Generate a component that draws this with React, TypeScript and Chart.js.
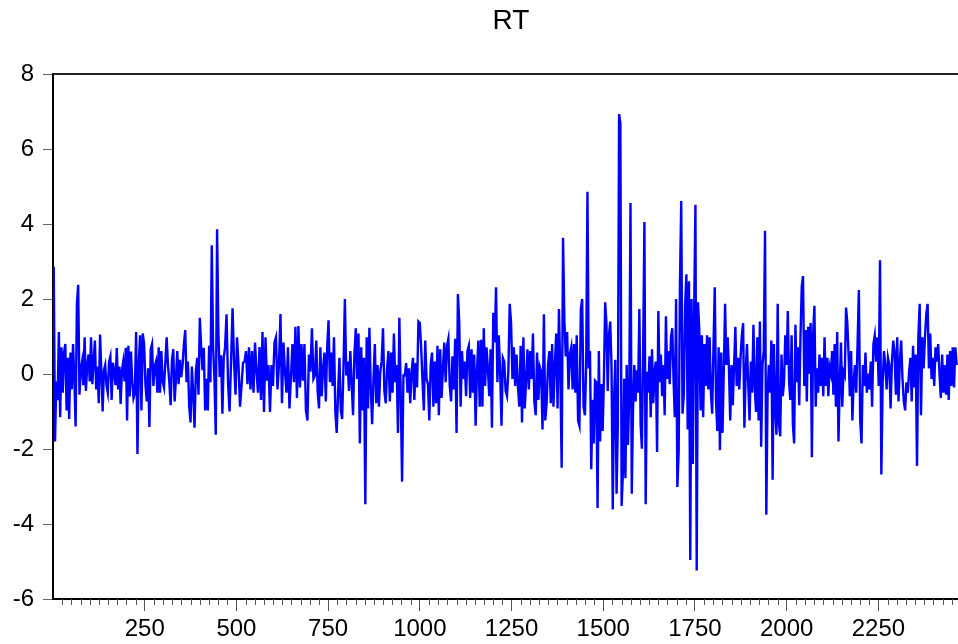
import React, { useEffect, useRef } from 'react';
import { Chart, registerables } from 'chart.js';

Chart.register(...registerables);

const TITLE = 'RT';
const Y_TICKS = [-6, -4, -2, 0, 2, 4, 6, 8];
const X_LABELS = [250, 500, 750, 1000, 1250, 1500, 1750, 2000, 2250];
const MINOR_STEP = 25;
const X_MIN = 0;
const X_MAX = 2497;

// observation index at which each block of readings starts (last entry = end)
const BLOCK_START = [2, 223, 469, 714, 959, 1204, 1450, 1695, 1941, 2186, 2467];

const rtA = [2.86, -1.8, -0.2, -0.7, 1.12, -1.15, 0.71, -0.5, 0.57, 0.8, -0.97, 0.43, -1.2, 0.57, -0.41, 0.8, -0.13, -1.4, 1.87, 2.38, -0.55, 0.1, 0.33, -0.3, 0.98, -0.45, 0.2, 0.52, -0.2, 0.98, -0.27, 0.33, 0.89, -0.41, 0.2, -0.78, 1.05, 0.06, -1.0, 0.1, 0.24, -0.3, -0.5, 0.33, 0.47, -0.69, 0.3, 0.06, -0.3, 0.69, -0.41, 0.2, -0.8, 0.1, 0.33, -0.2, 0.7, -1.24, 0.75, -0.6, 0.6, -0.2, -0.64];
const rtB = [-0.5, 1.12, -2.13, 0.3, 1.03, -0.97, 1.08, 0.8, -0.27, -0.73, 0.15, -1.41, 0.66, 0.8, -0.32, 0.2, 0.33, -0.5, 0.71, -0.5, 0.61, -0.2, -0.36, 0.3, 0.98, 0.24, -0.22, -0.83, 0.38, 0.66, -0.73, -0.13, 0.61, -0.27, 0.38, -0.08, 0.24, 0.8, 1.17, -0.22, 0.33, -0.87, -1.29, 0.2, -0.5, -1.43, 0.06, 0.43, -0.55, 1.5, 0.71, 0.1, 0.7, -0.97, -0.13, -0.97, 0.75, -0.22, 3.43, 0.71, -0.13, -1.62, 3.86, 1.08, -0.08, 0.5, -1.06, 0.43];
const rtC = [0.71, 1.59, -0.22, -1.0, 0.3, 1.75, 0.33, -0.55, 0.98, 0.24, -0.87, -0.32, 0.3, 0.33, 0.61, -0.27, 0.71, -0.41, 0.61, -0.5, 0.84, 0.06, -0.5, 0.72, -0.69, 1.12, -1.01, 0.98, -0.18, 0.24, -1.01, 0.24, -0.32, 0.84, 0.98, -0.41, 0.24, 1.6, -0.78, 0.84, 0.06, -0.5, 0.71, -0.92, -0.08, 0.8, -0.22, 1.26, -0.64, 1.28, -0.36, 0.8, -0.18, 0.8, -0.97, -1.24, 0.52, 0.06, 1.22, -0.13];
const rtD = [-0.04, 0.89, -0.45, -0.92, 0.71, -0.59, 0.15, 0.57, -0.73, 0.71, 1.43, -0.22, 0.57, -0.32, 0.98, -1.01, -1.57, -0.5, 0.43, -0.97, -1.2, 0.24, 2.0, -0.04, 0.33, -0.45, 0.61, -0.27, -1.1, 0.52, 1.22, -0.13, 1.08, -1.85, 0.71, -0.97, 0.43, -3.47, 0.98, -0.92, 1.23, -0.36, -1.34, -0.13, 0.8, -0.78, 0.24, -0.87, 0.06, 0.33, 1.22, -0.45, -0.78, 0.15, 0.61, -0.73, 0.57, -0.5, 1.08, -0.22, 0.24, -1.57, 1.5, -0.5, -2.87, -0.04];
const rtE = [-0.04, 0.29, -0.5, 0.15, -0.78, 0.06, 0.43, -0.69, 0.29, -0.36, 1.4, 1.36, 0.71, -0.18, -0.97, 0.89, -0.13, -0.27, -1.24, 0.24, 0.57, -0.87, 0.33, -0.78, 0.75, -1.1, 0.66, -0.64, 0.15, 0.84, -0.22, 0.75, 0.94, -0.32, -0.73, 0.47, -0.41, 0.94, -1.57, 2.13, 1.36, -0.87, 0.61, -0.13, 0.33, -0.59, 0.61, 0.75, -0.64, 0.66, -0.5, 0.52, -1.38, 0.06, 0.89, -0.87, 0.91, -0.87, 1.22, -0.32, 0.71, 0.15, -0.59, 0.66, -1.43, 1.63];
const rtF = [0.84, 2.31, -0.22, 1.03, 0.06, -1.38, 0.43, 0.33, -0.45, -0.59, 0.06, 1.87, 1.36, -0.13, 0.71, -0.32, 0.52, -0.32, -0.87, 0.75, -1.29, 0.98, -0.92, -0.18, 0.66, -0.41, 0.61, -0.13, 1.08, -0.73, -1.1, 0.57, -0.69, 0.19, 0.06, -1.48, 1.59, -1.24, -0.78, 0.24, 0.61, -0.78, 0.8, -0.87, 0.24, 1.08, -0.92, 1.73, 0.06, -2.5, 3.63, 1.4, 0.47, 1.12, -0.41, 0.52, 0.71, -0.41, 0.8, -0.5, 1.03, -1.24, -1.38, 1.73, 2.0, -0.87];
const rtG = [-1.1, 0.24, 4.86, 0.15, 0.61, -2.54, -0.69, -1.85, -0.18, -0.22, -3.57, 0.61, -1.8, -0.27, -1.52, -0.13, 1.91, 1.36, -0.45, 1.03, 1.4, 0.24, -3.61, -0.69, 0.38, -3.19, -1.34, 6.93, 6.69, -3.52, -2.64, -0.13, -2.78, 0.24, -1.89, -0.64, 4.56, -3.19, -0.97, 0.24, -0.73, 0.1, -0.5, 1.73, -1.34, -1.99, 0.61, 4.05, -3.47, 0.06, -0.5, 0.47, -1.15, 0.66, -0.78, 0.06, 0.33, -2.08, 1.68, -0.22, 0.52, -0.59, 0.24, -1.1, 1.54, -0.13, 0.61, -0.27, 0.98, 1.22, -0.13];
const rtH = [-1.15, 2.0, -3.01, -2.08, 2.38, 4.61, -1.06, -0.55, 1.82, 2.66, -1.48, 2.47, -4.96, 2.0, -2.4, 1.59, 4.51, -5.24, 1.91, 1.17, -0.97, 1.03, -1.15, 0.8, -0.32, 1.03, -0.41, 0.98, -0.5, -1.06, 0.71, 2.31, -0.73, -1.52, 0.71, -2.03, 0.57, -1.57, 0.06, 1.87, 0.24, 0.98, 0.15, -1.24, 0.24, -0.83, 0.24, 1.26, -0.32, 0.43, -0.41, 0.43, 1.03, 1.36, -1.43, 0.06, 0.8, -0.32, -1.24, 0.33, -0.5, 1.31, -0.32, -1.01, 0.98, -1.24, 1.4, -1.94, 0.24, 0.61];
const rtI = [3.82, -3.75, -0.55, 0.24, -0.5, 0.89, -2.82, 0.8, -0.87, -1.62, 1.87, -1.34, -1.66, 0.52, -0.59, -0.22, 1.03, 0.24, 1.68, -0.22, -0.69, 1.03, -1.34, -1.85, 1.31, -0.22, 0.71, -0.83, 0.98, 2.33, 2.61, -0.32, 1.17, -0.73, 1.26, 0.01, 1.36, -2.22, 1.08, 1.82, -0.87, 0.15, -0.5, 0.52, -0.32, 0.43, -0.59, 0.98, -0.32, 0.43, -0.59, 0.19, 0.01, 0.61, -0.55, 0.8, -0.87, 1.12, -1.8, -0.32, 0.84, -0.87, 0.06, -0.04, 1.77, 1.36, 0.52, -0.59, 0.61, -1.24, -0.22];
const rtJ = [0.24, -0.5, 0.8, 2.24, -1.24, -1.85, 0.24, -0.32, 0.57, -0.5, 0.01, -0.41, 0.33, -0.87, 0.8, 1.03, 0.33, 0.98, -0.32, 3.03, -2.68, -0.22, 0.61, 0.24, -0.41, 0.43, 0.24, -0.92, 0.33, 0.89, 0.57, -0.55, 0.98, -0.73, 0.33, 0.89, -0.13, -0.73, -0.97, -0.22, -0.5, 0.06, 0.43, -0.73, 0.75, -0.36, 0.52, -2.45, 0.98, 1.87, -1.1, 0.98, 0.15, 0.98, 1.59, 1.87, 0.15, 1.08, -0.13, 0.43, -0.32, 0.71, 0.33, 0.8, 0.01, -0.64, 0.52, -0.5, 0.24, -0.55, 0.52, -0.69, 0.61, -0.32, 0.71, -0.36, 0.71, 0.24];

const BLOCKS = [rtA, rtB, rtC, rtD, rtE, rtF, rtG, rtH, rtI, rtJ];

function buildPoints() {
  const pts: { x: number; y: number }[] = [];
  BLOCKS.forEach((block, b) => {
    const a = BLOCK_START[b];
    const e = BLOCK_START[b + 1];
    block.forEach((v, j) => {
      pts.push({ x: a + (j * (e - a)) / block.length, y: v });
    });
  });
  return pts;
}

const FONT = 'Liberation Sans, Arial, sans-serif';

const framePlugin = {
  id: 'frameAndMinor',
  afterDraw(chart: any) {
    const { ctx, chartArea } = chart;
    const x = chart.scales.x;
    ctx.save();
    ctx.strokeStyle = '#555';
    ctx.lineWidth = 1;
    for (let v = MINOR_STEP; v <= x.max; v += MINOR_STEP) {
      if (X_LABELS.includes(v)) continue;
      const px = Math.round(x.getPixelForValue(v)) + 0.5;
      ctx.beginPath();
      ctx.moveTo(px, chartArea.bottom);
      ctx.lineTo(px, chartArea.bottom + 6);
      ctx.stroke();
    }
    ctx.strokeStyle = '#222';
    ctx.lineWidth = 2;
    ctx.beginPath();
    ctx.moveTo(chartArea.left, chartArea.top);
    ctx.lineTo(chartArea.right, chartArea.top);
    ctx.stroke();
    ctx.restore();
  },
};

export default function App() {
  const ref = useRef<HTMLCanvasElement | null>(null);
  useEffect(() => {
    if (!ref.current) return;
    const chart = new Chart(ref.current, {
      type: 'line',
      data: {
        datasets: [
          {
            label: TITLE,
            data: buildPoints(),
            borderColor: '#0000ff',
            borderWidth: 2.4,
            pointRadius: 0,
            tension: 0,
          },
        ],
      },
      options: {
        animation: false,
        responsive: false,
        devicePixelRatio: 1,
        layout: { padding: { left: 0, right: 6, top: 0, bottom: 0 } },
        plugins: {
          legend: { display: false },
          tooltip: { enabled: false },
          title: {
            display: true,
            text: TITLE,
            fullSize: false,
            color: '#000',
            font: { family: FONT, size: 28, weight: 'normal' },
            padding: { top: 4, bottom: 36.4 },
          },
        },
        scales: {
          x: {
            type: 'linear',
            min: X_MIN,
            max: X_MAX,
            afterBuildTicks: (s: any) => {
              s.ticks = X_LABELS.map((v) => ({ value: v }));
            },
            afterFit: (s: any) => {
              s.height = 45;
            },
            ticks: {
              color: '#000',
              font: { family: FONT, size: 24 },
              padding: 4,
              maxRotation: 0,
              autoSkip: false,
              callback: (v: any) => String(v),
            },
            grid: {
              drawOnChartArea: false,
              tickLength: 12,
              tickColor: '#555',
              tickWidth: 1,
            },
            border: { display: true, color: '#000', width: 2 },
          },
          y: {
            type: 'linear',
            min: -6,
            max: 8,
            afterBuildTicks: (s: any) => {
              s.ticks = Y_TICKS.map((v) => ({ value: v }));
            },
            afterFit: (s: any) => {
              s.width = 53;
            },
            ticks: {
              color: '#000',
              font: { family: FONT, size: 24 },
              padding: 9,
              callback: (v: any) => String(v),
            },
            grid: {
              drawOnChartArea: false,
              tickLength: 10,
              tickColor: '#666',
              tickWidth: 1,
            },
            border: { display: true, color: '#000', width: 2 },
          },
        },
      },
      plugins: [framePlugin],
    });
    return () => chart.destroy();
  }, []);

  return (
    <div
      style={{
        position: 'absolute',
        left: 0,
        top: 0,
        width: 958,
        height: 644,
        overflow: 'hidden',
        background: '#fff',
      }}
    >
      <canvas ref={ref} width={975} height={644} style={{ width: 975, height: 644, display: 'block' }} />
    </div>
  );
}
